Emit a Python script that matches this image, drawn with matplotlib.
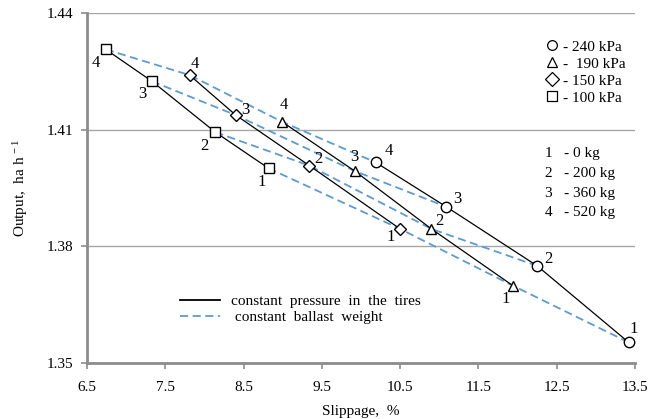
import matplotlib.pyplot as plt
from matplotlib.lines import Line2D

plt.rcParams['font.family'] = ['Liberation Serif', 'DejaVu Serif']
plt.rcParams['mathtext.fontset'] = 'custom'
plt.rcParams['mathtext.rm'] = 'Liberation Serif'
plt.rcParams['mathtext.it'] = 'Liberation Serif:italic'

pressures = ['240 kPa', '190 kPa', '150 kPa', '100 kPa']
markers = ['o', '^', 'D', 's']
loads = ['1', '2', '3', '4']
load_kg = ['0 kg', '200 kg', '360 kg', '520 kg']

# slippage (%) and output (ha/h), ballast 1..4 for each tyre pressure
slip_240 = [13.42, 12.25, 11.09, 10.19]
out_240 = [1.3553, 1.3750, 1.3902, 1.4016]
slip_190 = [11.94, 10.90, 9.92, 8.99]
out_190 = [1.3699, 1.3845, 1.3994, 1.4121]
slip_150 = [10.50, 9.34, 8.40, 7.81]
out_150 = [1.3845, 1.4008, 1.4138, 1.4241]
slip_100 = [8.82, 8.14, 7.33, 6.74]
out_100 = [1.4001, 1.4094, 1.4225, 1.4307]

slips = [slip_240, slip_190, slip_150, slip_100]
outs = [out_240, out_190, out_150, out_100]

# where the ballast number sits next to each point (pixels)
lbl_off = [
    [(5, 13), (11, 7), (11, 8), (13, 11)],
    [(-7, -13), (8, 8), (0, 14), (2, 17)],
    [(-9, -8), (9, 7), (10, 5), (5, 11)],
    [(-7, -14), (-11, -14), (-10, -13), (-10, -14)],
]
msize = [7.5, 7.5, 6.5, 7]

fig = plt.figure(figsize=(6.51, 4.19), dpi=100)
ax = fig.add_subplot(111)
fig.subplots_adjust(left=0.1336, right=0.9754, bottom=0.1337, top=0.9683)

blue = '#5b9bd5'
# constant ballast: same load across the four pressures
for i in range(4):
    xs = [s[i] for s in slips[::-1]]
    ys = [o[i] for o in outs[::-1]]
    ax.plot(xs, ys, color=blue, lw=1.3, dashes=(4.5, 2.5), zorder=2)

# constant pressure: each pressure across the four loads
for k in range(4):
    ax.plot(slips[k], outs[k], color='black', lw=0.9, marker=markers[k],
            ms=msize[k], mfc='white', mec='black', mew=1.0, zorder=3)
    for i in range(4):
        ax.annotate(loads[i], (slips[k][i], outs[k][i]), xytext=lbl_off[k][i],
                    textcoords='offset pixels', ha='center', va='center',
                    fontsize=12, zorder=4)

ax.set_xlim(6.5, 13.5)
ax.set_ylim(1.35, 1.44)
ax.set_xticks([6.5, 7.5, 8.5, 9.5, 10.5, 11.5, 12.5, 13.5])
ax.set_xticklabels(['6.5', '7.5', '8.5', '9.5', '10.5', '11.5', '12.5', '13.5'])
ax.set_yticks([1.35, 1.38, 1.41, 1.44])
ax.set_yticklabels(['1.35', '1.38', '1.41', '1.44'])
ax.yaxis.grid(True, color='#a6a6a6', lw=1.0)
ax.set_axisbelow(True)
for s in ['top', 'right']:
    ax.spines[s].set_visible(False)
for s in ['left', 'bottom']:
    ax.spines[s].set_color('#8c8c8c')
    ax.spines[s].set_linewidth(2)
ax.tick_params(axis='both', direction='out', length=4, width=1.2,
               color='#8c8c8c', labelsize=11)
ax.tick_params(axis='x', pad=9)
ax.tick_params(axis='y', pad=6)

ax.set_xlabel('Slippage,  %', fontsize=11, labelpad=8)
ax.set_ylabel('Output,  ha h$^{\\ -1}$', fontsize=11, labelpad=12)

# marker key
p_handles = [Line2D([], [], ls='none', marker=m, ms=7, mfc='white',
                    mec='black', mew=0.9) for m in markers]
p_labels = ['- ' + p for p in pressures]
p_labels[1] = '-  ' + pressures[1]
leg1 = ax.legend(p_handles, p_labels, loc='upper right',
                 bbox_to_anchor=(1.0, 0.95), frameon=False, fontsize=11,
                 handlelength=0.6, handletextpad=0.4, labelspacing=0.22,
                 borderaxespad=0.2)
ax.add_artist(leg1)

# ballast key
for i in range(4):
    y = 0.60 - i * 0.057
    ax.text(0.842, y, loads[i], transform=ax.transAxes, fontsize=11,
            ha='center', va='center')
    ax.text(0.870, y, '- ' + load_kg[i], transform=ax.transAxes,
            fontsize=11, ha='left', va='center')

# line style key
l_handles = [Line2D([], [], color='black', lw=1.3),
             Line2D([], [], color=blue, lw=1.3, dashes=(4.5, 2.5))]
ax.legend(l_handles, ['constant  pressure  in  the  tires',
                      ' constant  ballast  weight'],
          loc='upper left', bbox_to_anchor=(0.145, 0.235), frameon=False,
          fontsize=11, handlelength=2.6, handletextpad=0.7, labelspacing=0.15)

fig.savefig('out.png', dpi=100)
